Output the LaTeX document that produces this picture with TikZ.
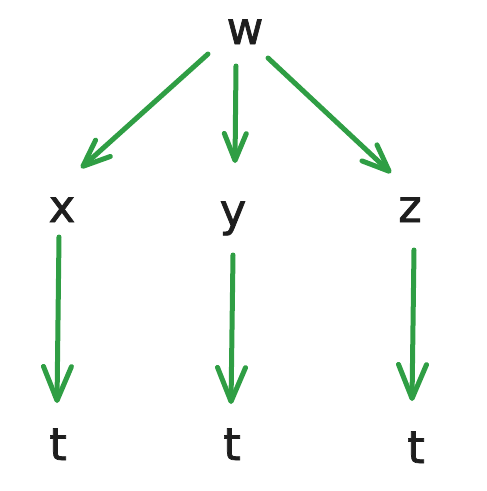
\documentclass[tikz,border=0pt]{standalone}
\usepackage{fontspec}
\setmainfont{DejaVu Sans}
\newfontfamily\lblfont{DejaVu Sans}[FakeBold=1.6]
\usetikzlibrary{arrows.meta,calc}
\definecolor{ink}{HTML}{1E1E1E}
\definecolor{leaf}{HTML}{2F9E44}
\begin{document}
\begin{tikzpicture}[x=1pt,y=-1pt,
  lbl/.style={anchor=base,inner sep=0pt,text=ink,font=\lblfont\fontsize{45}{45}\selectfont},
  arr/.style={draw=leaf,line width=5pt,line cap=round,line join=round},
  shorthead/.style={arr,-{Straight Barb[length=27pt,width=22pt,round]}},
  longhead/.style={arr,-{Straight Barb[length=34pt,width=28pt,round]}}]
  \useasboundingbox (0,0) rectangle (487,491);
  % variables
  \node[lbl] (w) at (245,44) {w};
  \node[lbl] (x) at (62,222) {x};
  \node[lbl] (y) at (233,226) {y};
  \node[lbl] (z) at (410,222) {z};
  \node[lbl] (t1) at (58,460) {t};
  \node[lbl] (t2) at (232,460) {t};
  \node[lbl] (t3) at (416,463) {t};
  % w fans out to x, y, z
  \draw[shorthead] ($(w.base)+(-37,10)$) -- ($(x.base)+(19,-54)$);
  \draw[shorthead] ($(w.base)+(-9,22)$) -- ($(y.base)+(2,-63)$);
  \draw[shorthead] ($(w.base)+(23,14)$) -- ($(z.base)+(-19,-49)$);
  % each of x, y, z points to t
  \draw[longhead] ($(x.base)+(-3,15)$) -- ($(t1.base)+(-1,-57)$);
  \draw[longhead] ($(y.base)+(0,29)$) -- ($(t2.base)+(-1,-56)$);
  \draw[longhead] ($(z.base)+(4,28)$) -- ($(t3.base)+(-4,-62)$);
\end{tikzpicture}
\end{document}
